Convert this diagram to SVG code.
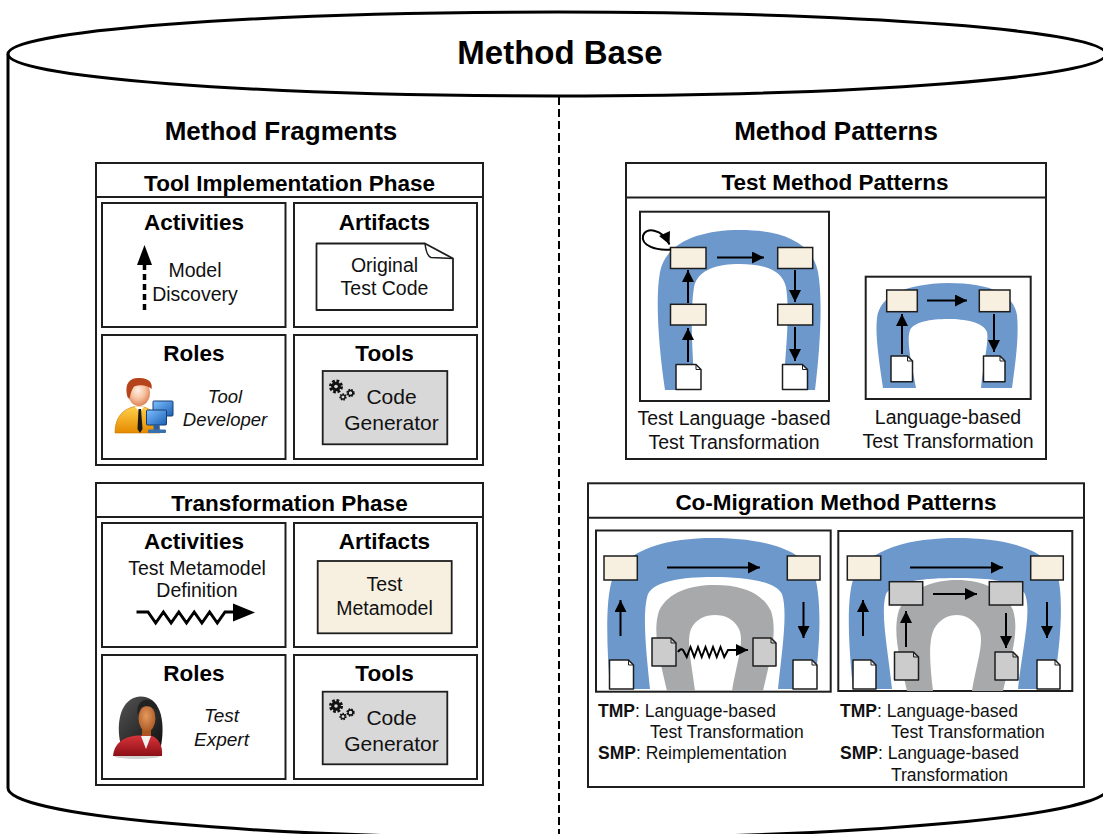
<svg xmlns="http://www.w3.org/2000/svg" width="1103" height="834" viewBox="0 0 1103 834">
  <defs>
    <style>
      .frame { fill: #fff; stroke: #1e1e1e; stroke-width: 2; }
      .sep { stroke: #1e1e1e; stroke-width: 2; }
      .hd { font-family: "Liberation Sans", Arial, Helvetica, sans-serif; font-weight: bold; text-anchor: middle; fill: #000; }
      .tx { font-family: "Liberation Sans", Arial, Helvetica, sans-serif; text-anchor: middle; fill: #111; }
      .it { font-family: "Liberation Sans", Arial, Helvetica, sans-serif; font-style: italic; text-anchor: middle; fill: #111; }
      .lb { font-family: "Liberation Sans", Arial, Helvetica, sans-serif; font-size: 17.5px; fill: #111; }
      .blue { fill: #6d98cc; }
      .grey { fill: #a8a9ab; }
      .state { fill: #f7f0e1; stroke: #1e1e1e; stroke-width: 1.5; }
      .gstate { fill: #cccccc; stroke: #1e1e1e; stroke-width: 1.5; }
      .doc { fill: #fff; stroke: #1e1e1e; stroke-width: 1.5; stroke-linejoin: round; }
      .gdoc { fill: #cccccc; stroke: #1e1e1e; stroke-width: 1.5; stroke-linejoin: round; }
      .fold { fill: none; stroke: #1e1e1e; stroke-width: 1; }
      .arr { fill: none; stroke: #000; stroke-width: 2; marker-end: url(#head); }
    </style>
    <marker id="head" viewBox="0 0 10 10" refX="10" refY="5" markerWidth="15" markerHeight="12" markerUnits="userSpaceOnUse" orient="auto">
      <path d="M0,0 L10,5 L0,10 Z" fill="#000"/>
    </marker>
    <linearGradient id="shirt" x1="0" y1="0" x2="0" y2="1">
      <stop offset="0" stop-color="#ffd24a"/>
      <stop offset="1" stop-color="#e58a00"/>
    </linearGradient>
    <radialGradient id="skinM" cx="0.45" cy="0.4" r="0.65">
      <stop offset="0" stop-color="#fff0e6"/>
      <stop offset="0.5" stop-color="#f7c2a0"/>
      <stop offset="1" stop-color="#d9794c"/>
    </radialGradient>
    <linearGradient id="screen" x1="0" y1="0" x2="1" y2="1">
      <stop offset="0" stop-color="#7fc0ff"/>
      <stop offset="1" stop-color="#1a5fb4"/>
    </linearGradient>
    <radialGradient id="skinF" cx="0.45" cy="0.4" r="0.7">
      <stop offset="0" stop-color="#e49a5c"/>
      <stop offset="1" stop-color="#a4501f"/>
    </radialGradient>
    <linearGradient id="jacket" x1="0" y1="0" x2="0" y2="1">
      <stop offset="0" stop-color="#d8333a"/>
      <stop offset="1" stop-color="#8c0f16"/>
    </linearGradient>
    <linearGradient id="hairF" x1="0" y1="0" x2="1" y2="1">
      <stop offset="0" stop-color="#555"/>
      <stop offset="1" stop-color="#111"/>
    </linearGradient>
    <!-- cog icon: one large cog and two small ones -->
    <g id="gears">
      <circle cx="0" cy="0" r="5" fill="none" stroke="#111" stroke-width="4" stroke-dasharray="2.4 1.5"/>
      <circle cx="0" cy="0" r="4.8" fill="#111"/>
      <circle cx="0" cy="0" r="1.8" fill="#d8d8d8"/>
      <circle cx="7" cy="10.5" r="2.6" fill="none" stroke="#111" stroke-width="2.2" stroke-dasharray="1.3 1"/>
      <circle cx="7" cy="10.5" r="2.2" fill="none" stroke="#111" stroke-width="1.2"/>
      <circle cx="14.5" cy="6.5" r="3" fill="none" stroke="#111" stroke-width="2.4" stroke-dasharray="1.4 1"/>
      <circle cx="14.5" cy="6.5" r="2.5" fill="none" stroke="#111" stroke-width="1.3"/>
    </g>
  </defs>

  <rect width="1103" height="834" fill="#fff"/>

  <!-- repository cylinder -->
  <g id="method-base">
    <path d="M8,54 V788 A550,50 0 0 0 1108,788 V54" fill="none" stroke="#000" stroke-width="3"/>
    <ellipse cx="557" cy="54" rx="549" ry="42" fill="#fff" stroke="#000" stroke-width="3"/>
    <text class="hd" x="560" y="64" font-size="33">Method Base</text>
    <line x1="559" y1="97" x2="559" y2="834" stroke="#000" stroke-width="2" stroke-dasharray="8 4"/>
  </g>

  <text class="hd" x="281" y="140" font-size="26">Method Fragments</text>
  <text class="hd" x="836" y="140" font-size="26">Method Patterns</text>

  <!-- Tool implementation phase -->
  <g id="tool-implementation-phase">
    <rect class="frame" x="96" y="163" width="387" height="302"/>
    <line class="sep" x1="96" y1="197" x2="483" y2="197"/>
    <text class="hd" x="289.5" y="191" font-size="22.5">Tool Implementation Phase</text>

    <g id="tip-activities">
      <rect class="frame" x="102" y="203" width="183.5" height="124"/>
      <text class="hd" x="194" y="230" font-size="22.5">Activities</text>
      <line x1="144.5" y1="310" x2="144.5" y2="264" stroke="#000" stroke-width="3.5" stroke-dasharray="6 4"/>
      <path d="M144.5,245 L137,265 L152,265 Z" fill="#000"/>
      <text class="tx" x="195" y="277" font-size="19.5">Model</text>
      <text class="tx" x="195" y="301" font-size="19.5">Discovery</text>
    </g>

    <g id="tip-artifacts">
      <rect class="frame" x="294" y="203" width="183" height="124"/>
      <text class="hd" x="384.5" y="230" font-size="22.5">Artifacts</text>
      <path d="M316.5,243.5 H425 L453,258.5 V310 H316.5 Z" fill="#fff" stroke="#1e1e1e" stroke-width="1.8" stroke-linejoin="round"/>
      <path d="M425,243.5 Q426.5,256 431,257.5 L453,258.5" fill="none" stroke="#1e1e1e" stroke-width="1.5"/>
      <text class="tx" x="384.5" y="272" font-size="19.5">Original</text>
      <text class="tx" x="384.5" y="295" font-size="19.5">Test Code</text>
    </g>

    <g id="tip-roles">
      <rect class="frame" x="102" y="335" width="183.5" height="124"/>
      <text class="hd" x="194" y="361" font-size="22.5">Roles</text>
      <g id="tool-developer-icon">
        <path d="M115,433 C115,418 122,408 138,406 C152,407 159,416 160,433 Z" fill="url(#shirt)" stroke="#c87400" stroke-width="0.6"/>
        <path d="M134.5,406.5 L139.5,412 L144.5,406.5 Z" fill="#fff"/>
        <path d="M138.5,409 L141,409 L142.5,429 L140,433 L137.5,429 Z" fill="#1a1a1a"/>
        <ellipse cx="139" cy="393" rx="11" ry="13" fill="url(#skinM)"/>
        <path d="M127.5,397 C124,383 130,377.5 140,378 C149,378 153,383 151.5,389 C147,385 140,384.5 134,386.5 C131.5,390 130.5,394 129.5,399 Z" fill="#b5441c"/>
        <rect x="153" y="401" width="20" height="15" rx="1" fill="url(#screen)" stroke="#173e73" stroke-width="1"/>
        <rect x="160" y="416" width="6" height="5" fill="#2c5f9c"/>
        <rect x="146.5" y="410" width="20" height="15" rx="1" fill="url(#screen)" stroke="#173e73" stroke-width="1"/>
        <rect x="153.5" y="425" width="6" height="5" fill="#2c5f9c"/>
        <rect x="148" y="429.5" width="18" height="3.5" rx="1" fill="#3a6fae"/>
      </g>
      <text class="it" x="225" y="403" font-size="18.5">Tool</text>
      <text class="it" x="225" y="426" font-size="18.5">Developer</text>
    </g>

    <g id="tip-tools">
      <rect class="frame" x="294" y="335" width="183" height="124"/>
      <text class="hd" x="384.5" y="361" font-size="22.5">Tools</text>
      <rect x="322.7" y="371" width="124.6" height="73.3" fill="#d8d8d8" stroke="#1e1e1e" stroke-width="1.8"/>
      <use href="#gears" x="336" y="386.5"/>
      <text class="tx" x="391.5" y="404" font-size="21">Code</text>
      <text class="tx" x="391.5" y="430" font-size="21">Generator</text>
    </g>
  </g>

  <!-- Transformation phase -->
  <g id="transformation-phase">
    <rect class="frame" x="96" y="483" width="387" height="302"/>
    <line class="sep" x1="96" y1="517" x2="483" y2="517"/>
    <text class="hd" x="289.5" y="511" font-size="22.5">Transformation Phase</text>

    <g id="tp-activities">
      <rect class="frame" x="102" y="523" width="183.5" height="124"/>
      <text class="hd" x="194" y="549" font-size="22.5">Activities</text>
      <text class="tx" x="197" y="574.5" font-size="19.5">Test Metamodel</text>
      <text class="tx" x="197" y="597" font-size="19.5">Definition</text>
      <polyline points="136.5,612 148,612 155.7,623 163.4,612 171.1,623 178.8,612 186.5,623 194.2,612 201.9,623 209.6,612 217.3,623 225,612 235,612" fill="none" stroke="#000" stroke-width="3" stroke-linejoin="miter"/>
      <path d="M255,612.5 L233,603.5 L233,621.5 Z" fill="#000"/>
    </g>

    <g id="tp-artifacts">
      <rect class="frame" x="294" y="523" width="183" height="124"/>
      <text class="hd" x="384.5" y="549" font-size="22.5">Artifacts</text>
      <rect x="317.7" y="561" width="134" height="72.3" fill="#f7f0e1" stroke="#1e1e1e" stroke-width="1.8"/>
      <text class="tx" x="384.5" y="591" font-size="19.5">Test</text>
      <text class="tx" x="384.5" y="615" font-size="19.5">Metamodel</text>
    </g>

    <g id="tp-roles">
      <rect class="frame" x="102" y="655" width="183.5" height="124"/>
      <text class="hd" x="194" y="681" font-size="22.5">Roles</text>
      <g id="test-expert-icon">
        <ellipse cx="137" cy="756" rx="23" ry="3" fill="#000" opacity="0.18"/>
        <path d="M121,746 C115,722 121,698 140,696.5 C159,696 166,718 161,746 Z" fill="url(#hairF)"/>
        <rect x="142" y="726" width="9" height="11" fill="#a9551f"/>
        <path d="M113,756 C114,743 124,736.5 137,735.5 L150,735.5 C158,737 163,745 162,756 Z" fill="url(#jacket)"/>
        <path d="M141,736 L151,736 L146,749 Z" fill="#f2f2f2"/>
        <ellipse cx="147" cy="718.5" rx="8.5" ry="13" fill="url(#skinF)"/>
        <path d="M137.5,715 C136,702 144,699 149,700 C155,701 158,706 157.5,712 C153,706 146,705 141,708 C139.5,711 138.5,714 137.5,715 Z" fill="#222"/>
      </g>
      <text class="it" x="221.5" y="722" font-size="19">Test</text>
      <text class="it" x="221.5" y="745.5" font-size="19">Expert</text>
    </g>

    <g id="tp-tools">
      <rect class="frame" x="294" y="655" width="183" height="124"/>
      <text class="hd" x="384.5" y="681" font-size="22.5">Tools</text>
      <rect x="322.7" y="691.7" width="124.6" height="72.6" fill="#d8d8d8" stroke="#1e1e1e" stroke-width="1.8"/>
      <use href="#gears" x="336" y="706"/>
      <text class="tx" x="391.5" y="724.5" font-size="21">Code</text>
      <text class="tx" x="391.5" y="751" font-size="21">Generator</text>
    </g>
  </g>

  <!-- Test method patterns -->
  <g id="test-method-patterns">
    <rect class="frame" x="626" y="163" width="420" height="296"/>
    <line class="sep" x1="626" y1="197.5" x2="1046" y2="197.5"/>
    <text class="hd" x="835" y="190" font-size="22.5">Test Method Patterns</text>

    <g id="pattern-test-language-based">
      <rect class="frame" x="640" y="211.7" width="189" height="189.3"/>
      <path class="blue" d="M665,390 C659,350 655,300 660,272 C666,242 700,230 740,230 C782,230 812,242 818,272 C823,300 820,350 815,390 L783,390 C786,350 790,312 786,287 C782,269 762,264 740,264 C718,264 698,269 694,287 C690,312 692,350 695,390 Z"/>
      <rect class="state" x="670.5" y="247.5" width="35.5" height="21"/>
      <rect class="state" x="777.7" y="247.5" width="35" height="21"/>
      <rect class="state" x="670.5" y="304.3" width="35.5" height="20.7"/>
      <rect class="state" x="777.7" y="304.3" width="35" height="20.7"/>
      <path class="doc" d="M676,364.5 H696 L701,369.5 V389.5 H676 Z"/>
      <path class="fold" d="M696,364.5 V369.5 H701"/>
      <path class="doc" d="M782.5,364.5 H802.5 L807.5,369.5 V389.5 H782.5 Z"/>
      <path class="fold" d="M802.5,364.5 V369.5 H807.5"/>
    </g>

    <g id="pattern-language-based">
      <rect class="frame" x="865.7" y="276.7" width="165" height="122.3"/>
      <path class="blue" d="M883,388 C879,360 875,335 877,318 C880,295 905,284 948,283 C992,283 1014,295 1017,315 C1019,335 1016,360 1012,388 L981,388 C983,365 989,342 987,332 C983,322 965,319 948,319 C930,319 914,322 910,330 C906,342 912,365 916,388 Z"/>
      <rect class="state" x="886.7" y="290" width="30.6" height="21.7"/>
      <rect class="state" x="979.3" y="290" width="30.7" height="21.7"/>
      <path class="doc" d="M891,356 H907.5 L912.5,361 V381.7 H891 Z"/>
      <path class="fold" d="M907.5,356 V361 H912.5"/>
      <path class="doc" d="M983.5,356 H1000 L1005,361 V381.7 H983.5 Z"/>
      <path class="fold" d="M1000,356 V361 H1005"/>
    </g>

    <text class="tx" x="734" y="425" font-size="19.5">Test Language -based</text>
    <text class="tx" x="734" y="448.5" font-size="19.5">Test Transformation</text>
    <text class="tx" x="948" y="423.5" font-size="19.5">Language-based</text>
    <text class="tx" x="948" y="447.5" font-size="19.5">Test Transformation</text>
  </g>

  <!-- Co-migration method patterns -->
  <g id="co-migration-method-patterns">
    <rect class="frame" x="588" y="483.3" width="496" height="303.7"/>
    <line class="sep" x1="588" y1="517.7" x2="1084" y2="517.7"/>
    <text class="hd" x="836" y="510" font-size="22.5">Co-Migration Method Patterns</text>

    <g id="pattern-reimplementation">
      <rect class="frame" x="596" y="530.5" width="234.7" height="161.2"/>
      <path class="grey" d="M667,691 C660,660 652,632 659,611 C668,592 690,585 715,585 C740,585 762,592 771,611 C778,632 770,660 763,691 L732,691 C736,665 745,642 739,629 C734,619 725,615 715,615 C705,615 696,619 691,629 C686,642 692,665 695,691 Z"/>
      <path class="blue" d="M610,689 C607,650 605,602 612,580 C625,548 670,538 713,538 C760,538 805,548 815,577 C822,602 820,650 814,689 L778,689 C782,650 788,612 782,594 C775,581 745,577 713,577 C682,577 655,581 648,594 C642,612 646,650 650,689 Z"/>
      <rect class="state" x="604" y="556" width="33.3" height="24"/>
      <rect class="state" x="787.3" y="556" width="32.7" height="24"/>
      <path class="doc" d="M609.5,660 H628.5 L633.5,665 V689 H609.5 Z"/>
      <path class="fold" d="M628.5,660 V665 H633.5"/>
      <path class="doc" d="M793,660 H812 L817,665 V689 H793 Z"/>
      <path class="fold" d="M812,660 V665 H817"/>
      <path class="gdoc" d="M652,638 H671 L676,643 V666 H652 Z"/>
      <path class="fold" d="M671,638 V643 H676"/>
      <path class="gdoc" d="M753,638 H771 L776,643 V666 H753 Z"/>
      <path class="fold" d="M771,638 V643 H776"/>
    </g>

    <g id="pattern-language-based-both">
      <rect class="frame" x="838.3" y="531" width="234" height="160"/>
      <path class="grey" d="M907,691 C900,660 892,632 899,610 C909,589 932,580 957,580 C982,580 1004,589 1013,610 C1020,632 1010,660 1003,691 L972,691 C976,665 985,642 979,629 C973,619 965,615 957,615 C948,615 940,619 934,629 C928,642 930,665 933,691 Z"/>
      <path class="blue" d="M853,689 C849,650 846,602 853,580 C866,548 912,538 957,538 C1004,538 1048,548 1058,577 C1064,602 1060,650 1053,689 L1018,689 C1022,650 1032,612 1025,594 C1018,581 990,578 957,578 C925,578 893,581 886,594 C880,612 888,650 892,689 Z"/>
      <rect class="state" x="847.3" y="556" width="33.4" height="24"/>
      <rect class="state" x="1030.7" y="556" width="32.6" height="24"/>
      <rect class="gstate" x="889.3" y="581.7" width="33.4" height="23.3"/>
      <rect class="gstate" x="989.3" y="581.7" width="33.4" height="23.3"/>
      <path class="doc" d="M853,660 H871 L876,665 V689 H853 Z"/>
      <path class="fold" d="M871,660 V665 H876"/>
      <path class="doc" d="M1037,660 H1055 L1060,665 V689 H1037 Z"/>
      <path class="fold" d="M1055,660 V665 H1060"/>
      <path class="gdoc" d="M894.5,652 H913.5 L918.5,657 V680 H894.5 Z"/>
      <path class="fold" d="M913.5,652 V657 H918.5"/>
      <path class="gdoc" d="M995,652 H1013 L1018,657 V680 H995 Z"/>
      <path class="fold" d="M1013,652 V657 H1018"/>
    </g>

    <text class="lb" x="598" y="716.5"><tspan font-weight="bold">TMP</tspan>: Language-based</text>
    <text class="lb" x="650" y="738">Test Transformation</text>
    <text class="lb" x="598" y="759"><tspan font-weight="bold">SMP</tspan>: Reimplementation</text>
    <text class="lb" x="840" y="716.5"><tspan font-weight="bold">TMP</tspan>: Language-based</text>
    <text class="lb" x="891" y="738">Test Transformation</text>
    <text class="lb" x="840" y="759"><tspan font-weight="bold">SMP</tspan>: Language-based</text>
    <text class="lb" x="891" y="781">Transformation</text>
  </g>

  <!-- connectors inside the patterns -->
  <g id="connectors">
    <!-- test language-based test transformation -->
    <line class="arr" x1="717" y1="257.5" x2="764" y2="257.5"/>
    <line class="arr" x1="688" y1="303" x2="688" y2="270"/>
    <line class="arr" x1="688" y1="362" x2="688" y2="328"/>
    <line class="arr" x1="795" y1="270" x2="795" y2="302"/>
    <line class="arr" x1="795" y1="327" x2="795" y2="361"/>
    <path class="arr" d="M671,249.5 C655,251 641,245 643,236 C645,227 662,228 669.5,244.5"/>
    <!-- language-based test transformation -->
    <line class="arr" x1="927" y1="300.5" x2="967" y2="300.5"/>
    <line class="arr" x1="902" y1="354" x2="902" y2="314"/>
    <line class="arr" x1="994" y1="314" x2="994" y2="352"/>
    <!-- reimplementation co-migration -->
    <line class="arr" x1="667" y1="567.5" x2="760" y2="567.5"/>
    <line class="arr" x1="620.5" y1="636" x2="620.5" y2="600"/>
    <line class="arr" x1="803.5" y1="602" x2="803.5" y2="638"/>
    <path class="arr" d="M678,652 Q680.5,648 683,650 L686.75,657 L690.5,647 L694.25,657 L698,647 L701.75,657 L705.5,647 L709.25,657 L713,647 L716.75,657 L720.5,647 L724.25,657 L728,650 L748,650" stroke-width="1.5"/>
    <!-- language-based co-migration -->
    <line class="arr" x1="910" y1="567.5" x2="1003" y2="567.5"/>
    <line class="arr" x1="933" y1="594" x2="977" y2="594"/>
    <line class="arr" x1="863" y1="636" x2="863" y2="600"/>
    <line class="arr" x1="1047" y1="602" x2="1047" y2="638"/>
    <line class="arr" x1="906" y1="647" x2="906" y2="611"/>
    <line class="arr" x1="1006" y1="613" x2="1006" y2="648"/>
  </g>
</svg>
